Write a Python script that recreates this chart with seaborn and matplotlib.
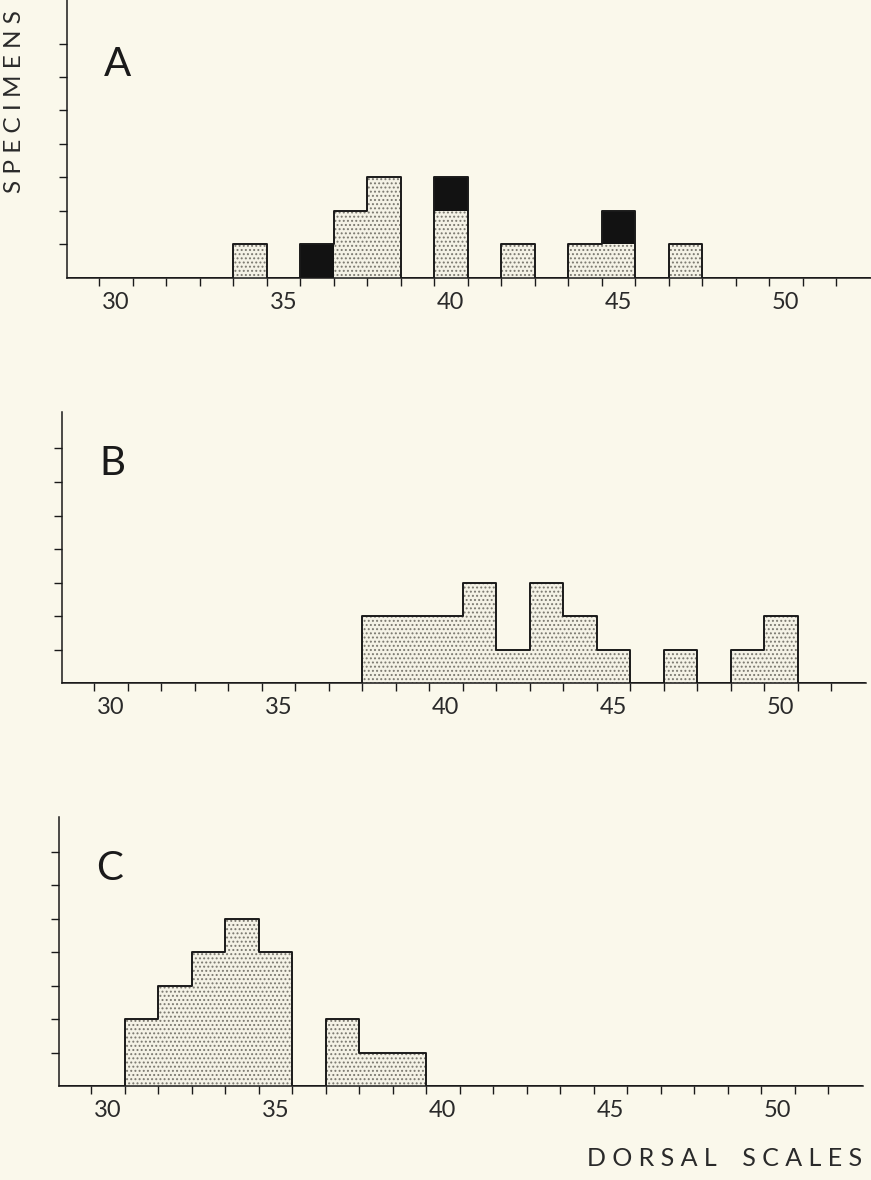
import matplotlib
matplotlib.use("Agg")
import matplotlib.pyplot as plt
import seaborn as sns
import numpy as np

# panel A: stippled and solid black specimens per dorsal scale count
a_scales_dot = [34, 37, 38, 40, 42, 44, 45, 47]
a_counts_dot = [1, 2, 3, 2, 1, 1, 1, 1]
a_scales_black = [36, 40, 45]
a_counts_black = [1, 1, 1]

# panel B
b_scales = [38, 39, 40, 41, 42, 43, 44, 45, 47, 49, 50]
b_counts = [2, 2, 2, 3, 1, 3, 2, 1, 1, 1, 2]

# panel C
c_scales = [31, 32, 33, 34, 35, 37, 38, 39]
c_counts = [2, 3, 4, 5, 4, 2, 1, 1]

panel_letters = ["A", "B", "C"]
x_labels = [30, 35, 40, 45, 50]
y_ticks = [1, 2, 3, 4, 5, 6, 7]

BG = "#FAF8EB"
FILL = "#F4F2E6"
DOTS = "#7a786f"
INK = "#1a1a1a"

W, H = 871, 1180
UNIT = 33.5  # px per scale / per specimen

sns.set_style("ticks")
plt.rcParams["font.family"] = ["Lato", "DejaVu Sans"]
plt.rcParams["hatch.linewidth"] = 0.9

fig = plt.figure(figsize=(W / 100, H / 100), dpi=100)
fig.patch.set_facecolor(BG)


def make_axes(left_px, top_px, base_px):
    width_px = 24 * UNIT
    ax = fig.add_axes([left_px / W, 1 - base_px / H, width_px / W, (base_px - top_px) / H])
    ax.set_facecolor(BG)
    return ax, (base_px - top_px) / UNIT


def stipple(ax, scales, counts):
    n0 = len(ax.patches)
    sns.histplot(x=scales, weights=counts, discrete=True, color=FILL, alpha=1,
                 linewidth=0, ax=ax)
    for p in ax.patches[n0:]:
        p.set_hatch("....")
        p.set_edgecolor(DOTS)
        p.set_linewidth(0)


def outline(ax, scales, counts):
    sns.histplot(x=scales, weights=counts, discrete=True, binrange=(29, 52),
                 element="step", fill=False, color=INK, linewidth=1.4, ax=ax)


def style(ax, top, letter, letter_y):
    ax.set_xlim(28.54, 52.54)
    ax.set_ylim(0, top)
    ax.set(xlabel="", ylabel="")
    ax.set_xticks(np.arange(29.5, 52, 1))
    ax.set_xticklabels([])
    ax.set_xticks(x_labels, labels=[str(v) for v in x_labels], minor=True)
    ax.set_yticks(y_ticks)
    ax.set_yticklabels([])
    ax.tick_params(axis="both", which="major", direction="out", length=6,
                   width=1.0, color=INK)
    ax.tick_params(axis="x", which="minor", length=0, pad=10,
                   labelsize=17, labelcolor="#2a2a2a")
    sns.despine(ax=ax)
    for s in ("left", "bottom"):
        ax.spines[s].set_linewidth(1.1)
        ax.spines[s].set_color(INK)
    ax.text(30.05, letter_y, letter, fontsize=29, ha="center", va="center",
            color=INK)


# A
axA, topA = make_axes(67, 0, 278)
sns.histplot(x=a_scales_dot + a_scales_black, weights=a_counts_dot + a_counts_black,
             discrete=True, color="#121212", alpha=1, linewidth=0, ax=axA)
stipple(axA, a_scales_dot, a_counts_dot)
outline(axA, a_scales_dot + a_scales_black, a_counts_dot + a_counts_black)
style(axA, topA, panel_letters[0], 6.36)

# B
axB, topB = make_axes(62, 412, 683)
stipple(axB, b_scales, b_counts)
outline(axB, b_scales, b_counts)
style(axB, topB, panel_letters[1], 6.54)

# C
axC, topC = make_axes(59, 817, 1086)
stipple(axC, c_scales, c_counts)
outline(axC, c_scales, c_counts)
style(axC, topC, panel_letters[2], 6.5)

fig.text(15 / W, 1 - 102 / H, "S P E C I M E N S", rotation=90, ha="center",
         va="center", fontsize=17.5, color="#2a2a2a")
fig.text(862 / W, 1 - 1159 / H, "D O R S A L    S C A L E S", ha="right",
         va="center", fontsize=18, color="#2a2a2a")

fig.savefig("out.png", dpi=100, facecolor=BG)
